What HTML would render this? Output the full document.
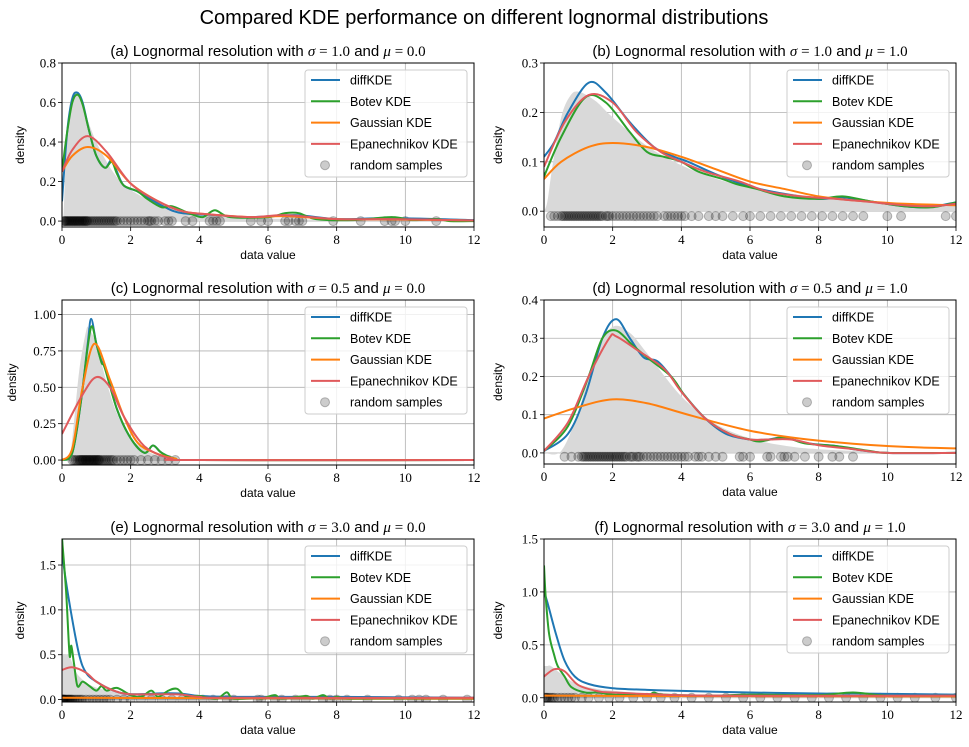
<!DOCTYPE html>
<html><head><meta charset="utf-8">
<style>
html,body{margin:0;padding:0;background:#fff;}
svg{display:block;}
.tk{font-family:"Liberation Serif",serif;font-size:13px;fill:#000;}
.lb{font-family:"Liberation Sans",sans-serif;font-size:12px;fill:#000;}
.tt{font-family:"Liberation Sans",sans-serif;font-size:15px;fill:#000;}
.lg{font-family:"Liberation Sans",sans-serif;font-size:12.5px;fill:#000;}
</style></head>
<body>
<svg id="fig" width="969" height="747" viewBox="0 0 969 747" xmlns="http://www.w3.org/2000/svg">
<text x="484" y="24" text-anchor="middle" style="font-family:'Liberation Sans',sans-serif;font-size:20px">Compared KDE performance on different lognormal distributions</text>
</svg>
<script>
// ---- data (a) sigma=1, mu=0
const aTrueX=[0,0.05,0.1,0.2,0.3,0.4,0.5,0.7,1,1.5,2,3,4,5,6,8,10,12];
const aTrueY=[0,0.05,0.28,0.55,0.64,0.655,0.63,0.535,0.40,0.245,0.157,0.073,0.038,0.022,0.013,0.006,0.003,0.0015];
const aBlueX=[0,0.15,0.3,0.45,0.6,0.8,1.0,1.25,1.45,1.6,1.8,2.2,2.5,3,3.5,4.5,5.5,6.8,8,9.6,12];
const aBlueY=[0.1,0.45,0.62,0.65,0.6,0.45,0.33,0.27,0.31,0.25,0.18,0.15,0.12,0.07,0.04,0.03,0.02,0.03,0.01,0.015,0.005];
const aGreenX=[0,0.15,0.3,0.45,0.6,0.8,1.0,1.25,1.45,1.6,1.8,2.2,2.5,2.9,3.2,3.7,4.1,4.45,4.9,6,6.5,6.9,7.4,8.5,9.6,10.2,10.9,11.3,12];
const aGreenY=[0.25,0.45,0.6,0.64,0.59,0.45,0.33,0.27,0.30,0.24,0.18,0.15,0.11,0.07,0.075,0.04,0.02,0.055,0.02,0.02,0.04,0.04,0.01,0.005,0.02,0.005,0.01,0.0,0.0];
const aOrangeX=[0,0.3,0.75,1.3,2,2.8,3.5,4.2,5.5,6.5,8,9.6,12];
const aOrangeY=[0.25,0.33,0.375,0.33,0.19,0.10,0.05,0.035,0.02,0.025,0.01,0.008,0.003];
const aRedX=[0,0.3,0.75,1.3,2,2.8,3.5,4.2,5.5,6.5,8,9.6,12];
const aRedY=[0.25,0.36,0.43,0.35,0.19,0.10,0.05,0.035,0.02,0.03,0.01,0.01,0.003];
const aSamples=[0.05,0.08,0.1,0.12,0.15,0.17,0.2,0.22,0.25,0.27,0.3,0.32,0.35,0.37,0.4,0.42,0.45,0.47,0.5,0.52,0.55,0.58,0.6,0.63,0.65,0.68,0.7,0.73,0.75,0.8,0.85,0.9,0.95,1.0,1.05,1.1,1.15,1.2,1.25,1.3,1.35,1.4,1.45,1.5,1.55,1.6,1.7,1.8,1.9,2.0,2.1,2.2,2.3,2.4,2.5,2.55,2.6,2.7,2.8,3.0,3.1,3.2,3.6,3.8,4.3,4.4,4.5,4.6,5.5,5.8,6,6.5,6.6,6.8,6.9,7,7.9,8.7,9.4,9.6,9.7,10,10.9];
// ---- data (b) sigma=1, mu=1
const bTrueX=[0,0.1,0.25,0.5,0.75,1,1.5,2,3,4,5,6,8,10,12];
const bTrueY=[0,0.02,0.093,0.19,0.232,0.242,0.223,0.19,0.132,0.093,0.066,0.049,0.028,0.017,0.0105];
const bBlueX=[0,0.3,0.7,1.3,1.8,2.5,3.2,3.8,4.2,5,6,7,8,8.7,9.5,10.5,11.2,12];
const bBlueY=[0.11,0.14,0.2,0.26,0.24,0.18,0.13,0.11,0.10,0.075,0.05,0.035,0.025,0.028,0.02,0.01,0.008,0.018];
const bGreenX=[0,0.5,1.2,1.8,2.5,3,3.5,4,4.5,5.2,5.6,6.2,7,8,8.7,9.5,10.5,11.3,12];
const bGreenY=[0.07,0.15,0.23,0.22,0.16,0.12,0.11,0.10,0.08,0.065,0.055,0.045,0.03,0.025,0.03,0.02,0.01,0.008,0.018];
const bOrangeX=[0,0.5,1.3,2,3,4,5,6,7,8,9,10.5,12];
const bOrangeY=[0.065,0.1,0.13,0.138,0.13,0.11,0.085,0.06,0.045,0.03,0.022,0.015,0.012];
const bRedX=[0,0.6,1.3,2,2.7,3.4,4,4.7,5.7,6.5,7.5,8.5,9.3,10.5,11.3,12];
const bRedY=[0.09,0.18,0.235,0.22,0.16,0.12,0.10,0.08,0.06,0.04,0.03,0.025,0.02,0.012,0.01,0.015];
const bSamples=[0.2,0.3,0.4,0.5,0.55,0.6,0.65,0.7,0.75,0.8,0.85,0.9,0.95,1.0,1.05,1.1,1.15,1.2,1.25,1.3,1.35,1.4,1.45,1.5,1.55,1.6,1.65,1.7,1.8,1.85,1.9,2.0,2.1,2.2,2.3,2.4,2.5,2.6,2.7,2.8,2.9,3.0,3.1,3.2,3.3,3.5,3.6,3.7,3.8,3.9,4.0,4.1,4.3,4.5,4.8,5.0,5.2,5.5,5.8,6.0,6.3,6.6,6.9,7.2,7.5,7.8,8.1,8.4,8.7,9.0,9.3,10.0,10.4,11.7,12.0];
// ---- data (c) sigma=0.5, mu=0
const cTrueX=[0,0.2,0.3,0.5,0.7,0.78,1,1.3,1.6,2,2.5,3,4,12];
const cTrueY=[0,0.02,0.146,0.61,0.884,0.904,0.798,0.535,0.321,0.153,0.06,0.024,0.004,0];
const cBlueX=[0,0.3,0.55,0.75,0.85,1.0,1.15,1.25,1.6,2,2.4,2.65,2.9,3.3,4,12];
const cBlueY=[0,0.05,0.4,0.8,0.97,0.8,0.68,0.65,0.35,0.15,0.05,0.1,0.05,0.01,0,0];
const cGreenX=[0,0.3,0.55,0.75,0.87,1.0,1.15,1.25,1.6,2,2.4,2.65,2.9,3.3,4,12];
const cGreenY=[0,0.05,0.4,0.78,0.92,0.8,0.67,0.63,0.35,0.15,0.05,0.1,0.05,0.01,0,0];
const cOrangeX=[0,0.3,0.6,0.95,1.4,1.8,2.2,2.7,3.3,4,12];
const cOrangeY=[0,0.08,0.5,0.8,0.55,0.3,0.12,0.05,0.01,0,0];
const cRedX=[0,0.6,1.0,1.4,1.8,2.3,2.7,3.2,3.8,12];
const cRedY=[0.18,0.45,0.57,0.5,0.3,0.12,0.05,0.01,0,0];
const cSamples=[0.3,0.35,0.4,0.45,0.5,0.52,0.55,0.58,0.6,0.62,0.65,0.68,0.7,0.72,0.75,0.78,0.8,0.82,0.85,0.88,0.9,0.93,0.95,0.98,1.0,1.03,1.05,1.08,1.1,1.15,1.2,1.25,1.3,1.35,1.4,1.45,1.5,1.6,1.7,1.8,1.9,2.0,2.1,2.3,2.5,2.7,2.9,3.1,3.3];
// ---- data (d) sigma=0.5, mu=1
const dTrueX=[0,0.5,1,1.5,2,2.5,3,4,5,6,7,8,10,12];
const dTrueY=[0,0.005,0.108,0.262,0.33,0.314,0.261,0.148,0.076,0.038,0.019,0.0097,0.0027,0];
const dBlueX=[0,0.7,1.2,1.7,2.1,2.5,2.9,3.3,3.7,4.1,4.7,5.3,6,6.5,7,7.7,8.5,9,10,12];
const dBlueY=[0.005,0.05,0.15,0.3,0.35,0.3,0.25,0.24,0.2,0.15,0.09,0.05,0.035,0.035,0.04,0.025,0.018,0.01,0,0];
const dGreenX=[0,0.7,1.3,1.7,2.1,2.6,3.0,3.7,4.1,4.7,5.4,6,6.3,7,7.6,8.5,9.5,10,12];
const dGreenY=[0.005,0.07,0.2,0.3,0.32,0.28,0.25,0.2,0.15,0.09,0.05,0.035,0.03,0.04,0.025,0.018,0.005,0,0];
const dOrangeX=[0,1,2,3,4,5,6,7,8,9,10,11,12];
const dOrangeY=[0.09,0.12,0.14,0.13,0.105,0.08,0.058,0.043,0.032,0.024,0.018,0.014,0.012];
const dRedX=[0,0.7,1.3,1.9,2.1,2.7,3.5,4,4.7,5.4,6,6.5,7.2,8,9,10,12];
const dRedY=[0.005,0.08,0.2,0.3,0.305,0.27,0.22,0.16,0.09,0.05,0.035,0.035,0.035,0.02,0.01,0,0];
const dSamples=[0.6,0.8,1.0,1.1,1.15,1.2,1.25,1.3,1.35,1.4,1.45,1.5,1.55,1.6,1.65,1.7,1.75,1.8,1.85,1.9,1.95,2.0,2.05,2.1,2.15,2.2,2.25,2.3,2.35,2.4,2.5,2.55,2.6,2.7,2.75,2.8,2.9,3.0,3.1,3.2,3.3,3.4,3.5,3.6,3.7,3.8,3.9,4.0,4.1,4.2,4.4,4.5,4.6,4.8,5.0,5.2,5.7,5.8,6.0,6.5,6.6,6.9,7.0,7.1,7.3,7.6,8.0,8.4,8.6,9.0];
// ---- data (e) sigma=3, mu=0
const eTrueX=[0,0.03,0.05,0.1,0.2,0.3,0.5,1,2,3,4,6,8,12];
const eTrueY=[0.5,0.5,0.5,0.5,0.5,0.409,0.259,0.133,0.065,0.041,0.03,0.019,0.0136,0.0086];
const eBlueX=[0,0.05,0.25,0.5,0.7,1.0,1.5,2,3,3.5,4,5,8,12];
const eBlueY=[1.79,1.5,1.0,0.5,0.3,0.2,0.1,0.06,0.07,0.065,0.04,0.03,0.03,0.02];
const eGreenX=[0,0.12,0.22,0.27,0.35,0.45,0.6,0.8,1.0,1.15,1.3,1.6,2,2.3,2.6,2.8,3.1,3.35,3.6,4,4.5,4.8,5.0,5.7,5.8,6.2,6.4,7.1,7.3,7.6,7.8,8,8.3,9,10,12];
const eGreenY=[1.8,1.2,0.5,0.6,0.4,0.15,0.2,0.15,0.1,0.15,0.1,0.13,0.05,0.03,0.1,0.03,0.1,0.12,0.04,0.04,0.01,0.08,0.01,0.02,0.01,0.05,0.01,0.04,0.01,0.05,0.01,0.03,0.01,0.01,0.01,0.01];
const eOrangeX=[0,2,4,6,8,10,12];
const eOrangeY=[0.02,0.018,0.016,0.015,0.014,0.013,0.012];
const eRedX=[0,0.3,0.7,1,1.5,2,3,3.5,4,5,12];
const eRedY=[0.33,0.36,0.3,0.2,0.1,0.06,0.06,0.055,0.03,0.02,0.02];
const eSamples=[0.01,0.02,0.03,0.04,0.05,0.06,0.08,0.1,0.12,0.15,0.18,0.2,0.22,0.25,0.28,0.3,0.35,0.4,0.45,0.5,0.55,0.6,0.7,0.8,0.9,1.0,1.1,1.2,1.3,1.4,1.6,1.8,2.0,2.3,2.6,2.9,3.2,3.5,3.8,4.1,4.4,4.8,5.0,5.7,5.8,6.2,6.4,6.8,7.1,7.6,7.8,8.0,8.3,8.9,9.8,10.2,10.4,10.6,11.1,11.8];
// ---- data (f) sigma=3, mu=1
const fTrueX=[0,0.05,0.1,0.2,0.5,1,2,4,8,12];
const fTrueY=[0.3,0.3,0.3,0.3,0.227,0.126,0.066,0.033,0.0156,0.0098];
const fBlueX=[0,0.1,0.35,0.6,0.9,1.3,2,3,4,6,8,9,12];
const fBlueY=[1.0,0.9,0.6,0.35,0.2,0.13,0.09,0.075,0.065,0.05,0.04,0.04,0.03];
const fGreenX=[0,0.05,0.15,0.3,0.4,0.6,0.8,1.2,1.6,2,3,3.2,3.5,5,6,8,9,10,12];
const fGreenY=[1.25,0.95,0.6,0.4,0.3,0.2,0.1,0.05,0.05,0.03,0.03,0.05,0.03,0.02,0.03,0.025,0.05,0.02,0.02];
const fOrangeX=[0,3,6,9,12];
const fOrangeY=[0.02,0.017,0.015,0.014,0.013];
const fRedX=[0,0.3,0.6,1,1.6,2,3,5,12];
const fRedY=[0.2,0.27,0.25,0.12,0.06,0.05,0.035,0.02,0.02];
const fSamples=[0.02,0.05,0.08,0.1,0.15,0.2,0.25,0.3,0.4,0.5,0.6,0.7,0.8,0.9,1.1,1.3,1.6,1.9,2.2,2.6,3.0,3.4,3.8,4.3,4.8,5.3,5.8,6.3,6.8,7.3,7.8,8.3,8.8,9.3,9.8,10.3,10.8,11.4,12];
// tick labels
const xTicks=[0,2,4,6,8,10,12];
const aTicks=[0,0.2,0.4,0.6,0.8], aTickLabels=["0.0","0.2","0.4","0.6","0.8"];
const bTicks=[0,0.1,0.2,0.3], bTickLabels=["0.0","0.1","0.2","0.3"];
const cTicks=[0,0.25,0.5,0.75,1.0], cTickLabels=["0.00","0.25","0.50","0.75","1.00"];
const dTicks=[0,0.1,0.2,0.3,0.4], dTickLabels=["0.0","0.1","0.2","0.3","0.4"];
const eTicks=[0,0.5,1.0,1.5], eTickLabels=["0.0","0.5","1.0","1.5"];
const fTicks=[0,0.5,1.0,1.5], fTickLabels=["0.0","0.5","1.0","1.5"];

const NS="http://www.w3.org/2000/svg";
const fig=document.getElementById('fig');
function mk(tag,attrs,parent){const e=document.createElementNS(NS,tag);for(const k in attrs)e.setAttribute(k,attrs[k]);(parent||fig).appendChild(e);return e;}
function smooth(pts){
  let d="M"+pts[0][0].toFixed(2)+","+pts[0][1].toFixed(2);
  for(let i=0;i<pts.length-1;i++){
    const p0=pts[Math.max(0,i-1)],p1=pts[i],p2=pts[i+1],p3=pts[Math.min(pts.length-1,i+2)];
    const c1x=p1[0]+(p2[0]-p0[0])/6,c1y=p1[1]+(p2[1]-p0[1])/6;
    const c2x=p2[0]-(p3[0]-p1[0])/6,c2y=p2[1]-(p3[1]-p1[1])/6;
    d+="C"+c1x.toFixed(2)+","+c1y.toFixed(2)+" "+c2x.toFixed(2)+","+c2y.toFixed(2)+" "+p2[0].toFixed(2)+","+p2[1].toFixed(2);
  }
  return d;
}
const panels=[
 {id:'a',x0:62,x1:474,y0:63,y1:227,ymin:-0.03,ymax:0.8,ticks:aTicks,tl:aTickLabels,sy:0,title:"(a) Lognormal resolution with ",s:"1.0",m:"0.0",tx:aTrueX,ty:aTrueY,
  series:[[aBlueX,aBlueY],[aGreenX,aGreenY],[aOrangeX,aOrangeY],[aRedX,aRedY]],samples:aSamples},
 {id:'b',x0:544,x1:956,y0:63,y1:227,ymin:-0.032,ymax:0.3,ticks:bTicks,tl:bTickLabels,sy:-0.01,title:"(b) Lognormal resolution with ",s:"1.0",m:"1.0",tx:bTrueX,ty:bTrueY,
  series:[[bBlueX,bBlueY],[bGreenX,bGreenY],[bOrangeX,bOrangeY],[bRedX,bRedY]],samples:bSamples},
 {id:'c',x0:62,x1:474,y0:300,y1:465,ymin:-0.034,ymax:1.1,ticks:cTicks,tl:cTickLabels,sy:0,title:"(c) Lognormal resolution with ",s:"0.5",m:"0.0",tx:cTrueX,ty:cTrueY,
  series:[[cBlueX,cBlueY],[cGreenX,cGreenY],[cOrangeX,cOrangeY],[cRedX,cRedY]],samples:cSamples},
 {id:'d',x0:544,x1:956,y0:300,y1:464,ymin:-0.029,ymax:0.4,ticks:dTicks,tl:dTickLabels,sy:-0.01,title:"(d) Lognormal resolution with ",s:"0.5",m:"1.0",tx:dTrueX,ty:dTrueY,
  series:[[dBlueX,dBlueY],[dGreenX,dGreenY],[dOrangeX,dOrangeY],[dRedX,dRedY]],samples:dSamples},
 {id:'e',x0:62,x1:474,y0:539,y1:702,ymin:-0.027,ymax:1.79,ticks:eTicks,tl:eTickLabels,sy:0,title:"(e) Lognormal resolution with ",s:"3.0",m:"0.0",tx:eTrueX,ty:eTrueY,
  series:[[eBlueX,eBlueY],[eGreenX,eGreenY],[eOrangeX,eOrangeY],[eRedX,eRedY]],samples:eSamples},
 {id:'f',x0:544,x1:956,y0:539,y1:702,ymin:-0.04,ymax:1.5,ticks:fTicks,tl:fTickLabels,sy:0,title:"(f) Lognormal resolution with ",s:"3.0",m:"1.0",tx:fTrueX,ty:fTrueY,
  series:[[fBlueX,fBlueY],[fGreenX,fGreenY],[fOrangeX,fOrangeY],[fRedX,fRedY]],samples:fSamples}
];
const colors=['#1f77b4','#2ca02c','#ff7f0e','#e05a5c'];
const snames=['diffkde-line','botev-kde-line','gaussian-kde-line','epanechnikov-kde-line'];
const lnames=['diffKDE','Botev KDE','Gaussian KDE','Epanechnikov KDE'];
panels.forEach(p=>{
  const g=mk('g',{});
  
  
  const X=v=>p.x0+(v-0)/(12-0)*(p.x1-p.x0);
  const Y=v=>p.y1-(v-p.ymin)/(p.ymax-p.ymin)*(p.y1-p.y0);
  const cp=mk('clipPath',{id:'clip'+p.id},g);
  mk('rect',{x:p.x0,y:p.y0,width:p.x1-p.x0,height:p.y1-p.y0},cp);
  xTicks.forEach(t=>{const l=mk('line',{x1:X(t),x2:X(t),y1:p.y0,y2:p.y1,stroke:'#b0b0b0','stroke-width':0.8},g);});
  p.ticks.forEach(t=>{const l=mk('line',{x1:p.x0,x2:p.x1,y1:Y(t),y2:Y(t),stroke:'#b0b0b0','stroke-width':0.8},g);});
  const pg=mk('g',{'clip-path':'url(#clip'+p.id+')'},g);
  let pts=p.tx.map((x,i)=>[X(x),Y(p.ty[i])]);
  let d=smooth(pts)+"L"+X(p.tx[p.tx.length-1])+","+Y(0)+"L"+X(p.tx[0])+","+Y(0)+"Z";
  const fa=mk('path',{d:d,fill:'#d9d9d9',stroke:'none'},pg);
  
  
  p.samples.forEach(s=>{const c=mk('circle',{cx:X(s),cy:Y(p.sy),r:4.5,fill:'rgba(0,0,0,0.2)',stroke:'rgba(0,0,0,0.25)','stroke-width':1},pg);
    
    });
  p.series.forEach((s,k)=>{
    const pp=s[0].map((x,i)=>[X(x),Y(s[1][i])]);
    const l=mk('path',{d:smooth(pp),fill:'none',stroke:colors[k],'stroke-width':2,'stroke-linejoin':'round'},pg);
    
    
  });
  const fr=mk('rect',{x:p.x0,y:p.y0,width:p.x1-p.x0,height:p.y1-p.y0,fill:'none',stroke:'#000','stroke-width':1},g);
  
  
  xTicks.forEach(t=>{mk('line',{x1:X(t),x2:X(t),y1:p.y1,y2:p.y1+4,stroke:'#000','stroke-width':0.8},g);
    const tx=mk('text',{x:X(t),y:p.y1+17,'text-anchor':'middle',class:'tk'},g);tx.textContent=t;
    });
  p.ticks.forEach((t,i)=>{mk('line',{x1:p.x0-4,x2:p.x0,y1:Y(t),y2:Y(t),stroke:'#000','stroke-width':0.8},g);
    const tx=mk('text',{x:p.x0-6,y:Y(t)+4.5,'text-anchor':'end',class:'tk'},g);tx.textContent=p.tl[i];
    });
  const xl=mk('text',{x:(p.x0+p.x1)/2,y:p.y1+32,'text-anchor':'middle',class:'lb'},g);xl.textContent='data value';
  
  const ylx=p.x0-(p.id==='c'?46:38)-(p.x0>100?4:0);
  const yl=mk('text',{x:ylx,y:(p.y0+p.y1)/2,'text-anchor':'middle',class:'lb',transform:'rotate(-90 '+ylx+' '+((p.y0+p.y1)/2)+')'},g);yl.textContent='density';
  
  const tt=mk('text',{x:(p.x0+p.x1)/2,y:p.y0-7,'text-anchor':'middle',class:'tt'},g);
  tt.innerHTML=p.title+'<tspan font-family="Liberation Serif" font-style="italic">σ</tspan><tspan font-family="Liberation Serif"> = '+p.s+'</tspan> and <tspan font-family="Liberation Serif" font-style="italic">μ</tspan><tspan font-family="Liberation Serif"> = '+p.m+'</tspan>';
  
  const lx=p.x1-169,ly=p.y0+7;
  const lg=mk('g',{},g);
  
  
  mk('rect',{x:lx,y:ly,width:162,height:107,rx:3,fill:'rgba(255,255,255,0.8)',stroke:'#cccccc','stroke-width':1},lg);
  for(let k=0;k<5;k++){
    const yy=ly+10+k*21.3;
    if(k<4){mk('line',{x1:lx+6,x2:lx+35,y1:yy,y2:yy,stroke:colors[k],'stroke-width':2},lg);}
    else{mk('circle',{cx:lx+20,cy:yy,r:4.5,fill:'rgba(0,0,0,0.2)',stroke:'rgba(0,0,0,0.25)','stroke-width':1},lg);}
    const t=mk('text',{x:lx+45,y:yy+4.5,class:'lg'},lg);t.textContent=k<4?lnames[k]:'random samples';
    
  }
});
</script>
</body></html>
